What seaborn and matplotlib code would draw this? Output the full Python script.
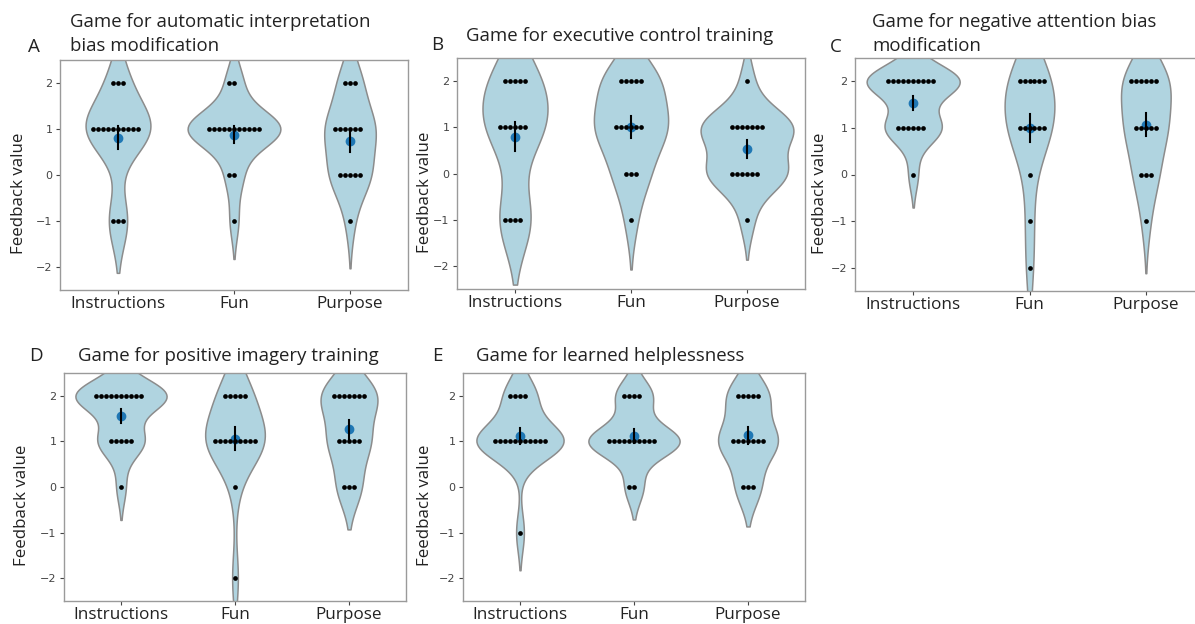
import numpy as np
import pandas as pd
import matplotlib.pyplot as plt
import seaborn as sns

# --- feedback ratings (one list per game / aspect) ---
categories = ["Instructions", "Fun", "Purpose"]

# A: automatic interpretation bias modification
a_instructions = [2, 2, 2, 1, 1, 1, 1, 1, 1, 1, 1, 1, 1, -1, -1, -1]
a_fun = [2, 2, 1, 1, 1, 1, 1, 1, 1, 1, 1, 1, 1, 0, 0, -1]
a_purpose = [2, 2, 2, 1, 1, 1, 1, 1, 1, 0, 0, 0, 0, 0, -1]

# B: executive control training
b_instructions = [2, 2, 2, 2, 2, 1, 1, 1, 1, 1, 1, -1, -1, -1, -1]
b_fun = [2, 2, 2, 2, 2, 1, 1, 1, 1, 1, 1, 0, 0, 0, -1]
b_purpose = [2, 1, 1, 1, 1, 1, 1, 1, 0, 0, 0, 0, 0, 0, -1]

# C: negative attention bias modification
c_instructions = [2, 2, 2, 2, 2, 2, 2, 2, 2, 2, 1, 1, 1, 1, 1, 1, 0]
c_fun = [2, 2, 2, 2, 2, 2, 1, 1, 1, 1, 1, 1, 0, -1, -2]
c_purpose = [2, 2, 2, 2, 2, 2, 1, 1, 1, 1, 1, 0, 0, 0, -1]

# D: positive imagery training
d_instructions = [2, 2, 2, 2, 2, 2, 2, 2, 2, 2, 1, 1, 1, 1, 1, 0]
d_fun = [2, 2, 2, 2, 2, 1, 1, 1, 1, 1, 1, 1, 1, 1, 0, -2]
d_purpose = [2, 2, 2, 2, 2, 2, 2, 1, 1, 1, 1, 1, 0, 0, 0]

# E: learned helplessness
e_instructions = [2, 2, 2, 2, 1, 1, 1, 1, 1, 1, 1, 1, 1, 1, 1, -1]
e_fun = [2, 2, 2, 2, 1, 1, 1, 1, 1, 1, 1, 1, 1, 1, 0, 0]
e_purpose = [2, 2, 2, 2, 2, 1, 1, 1, 1, 1, 1, 1, 0, 0, 0]

panel_letters = ["A", "B", "C", "D", "E"]
panel_titles = [
    "Game for automatic interpretation\nbias modification",
    "Game for executive control training",
    "Game for negative attention bias\nmodification",
    "Game for positive imagery training",
    "Game for learned helplessness",
]
panel_data = [
    (a_instructions, a_fun, a_purpose),
    (b_instructions, b_fun, b_purpose),
    (c_instructions, c_fun, c_purpose),
    (d_instructions, d_fun, d_purpose),
    (e_instructions, e_fun, e_purpose),
]


def long_form(instr, fun, purpose):
    aspect = ["Instructions"] * len(instr) + ["Fun"] * len(fun) + ["Purpose"] * len(purpose)
    return pd.DataFrame({"aspect": aspect, "value": list(instr) + list(fun) + list(purpose)})


W, H = 1195, 624
fig = plt.figure(figsize=(W / 100, H / 100), dpi=100)

# axes boxes in pixels: left, top, right, bottom
boxes = [
    (60, 60, 408, 290),
    (457, 58, 805, 289),
    (855, 58, 1204, 291),
    (64, 373, 406, 601),
    (463, 373, 805, 601),
]
# letter (x, y) and title (x, y) in pixels
letter_pos = [(34, 47), (437, 45), (836, 47), (36, 356), (437, 356)]
title_pos = [(70, 34), (466, 36), (872, 34), (78, 356), (476, 356)]
# distance (px) from left spine to the right edge of the y label
ylabel_gap = [33, 24, 27, 34, 30]

txt_font = ["Open Sans", "DejaVu Sans"]
edge_grey = "#9a9a9a"

for i, (box, vals) in enumerate(zip(boxes, panel_data)):
    l, t, r, b = box
    ax = fig.add_axes([l / W, 1 - b / H, (r - l) / W, (b - t) / H])
    df = long_form(*vals)

    sns.violinplot(data=df, x="aspect", y="value", order=categories, color="#b0d4e0",
                   saturation=1, inner=None, linecolor="#8c8c8c", linewidth=1.1, ax=ax)
    sns.swarmplot(data=df, x="aspect", y="value", order=categories, color="black",
                  size=3.4, linewidth=0, ax=ax)
    sns.pointplot(data=df, x="aspect", y="value", order=categories, errorbar="se",
                  color="#1f77b4", linestyle="none", markersize=5,
                  err_kws={"color": "black", "linewidth": 1.5}, ax=ax)

    ax.set_ylim(-2.5, 2.5)
    ax.set_yticks([-2, -1, 0, 1, 2])
    ax.set_xlabel("")
    ax.set_ylabel("Feedback value", family=txt_font, fontsize=12.2, color="#222222")
    ax.yaxis.set_label_coords(-ylabel_gap[i] / (r - l), 0.42)
    ax.set_xticks(range(3))
    ax.set_xticklabels(categories, family=txt_font, fontsize=12.3, color="#222222")
    ax.tick_params(axis="y", labelsize=8, colors="#444444", length=3, pad=2.5)
    ax.tick_params(axis="x", colors="#444444", length=3, pad=1.5, labelcolor="#222222")
    for sp in ax.spines.values():
        sp.set_color(edge_grey)
        sp.set_linewidth(1)

    fig.text(letter_pos[i][0] / W, 1 - letter_pos[i][1] / H, panel_letters[i],
             family=txt_font, fontsize=13.5, ha="center", va="center", color="#222222")
    fig.text(title_pos[i][0] / W, 1 - title_pos[i][1] / H, panel_titles[i],
             family=txt_font, fontsize=13.4, ha="left", va="center", color="#222222",
             linespacing=1.45)

fig.savefig("out.png", dpi=100)
